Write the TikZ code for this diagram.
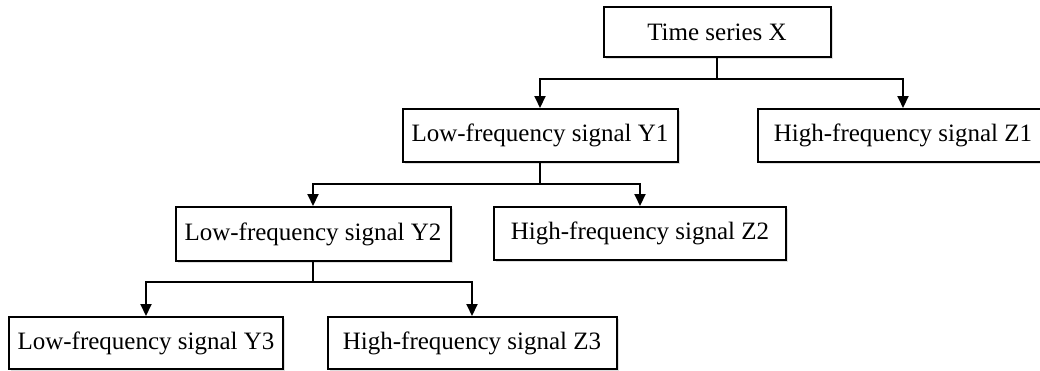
\documentclass[tikz,border=0pt]{standalone}
\usepackage{fontspec}
\setmainfont{Liberation Serif}
\usetikzlibrary{arrows.meta,shadows}
\begin{document}
\begin{tikzpicture}[x=1pt,y=-1pt,
  box/.style={draw, line width=2pt, fill=white, rectangle, inner sep=0pt,
    font=\fontsize{25}{30}\selectfont,
    drop shadow={shadow xshift=2pt, shadow yshift=-2pt, opacity=0.25, fill=gray}},
  conn/.style={line width=2pt},
  arr/.style={line width=2pt, -{Triangle[length=12pt,width=11pt]}}]
\useasboundingbox (0,0) rectangle (1040,370);
\node[box, minimum width=227pt, minimum height=50pt] (X) at (717,32) {Time series X};
\node[box, minimum width=275pt, minimum height=53pt] (Y1) at (540,135.5) {Low-frequency signal Y1};
\node[box, minimum width=290pt, minimum height=53pt] (Z1) at (903,135.5) {High-frequency signal Z1};
\node[box, minimum width=275pt, minimum height=54pt] (Y2) at (313,234) {Low-frequency signal Y2};
\node[box, minimum width=292pt, minimum height=53pt] (Z2) at (640,233.5) {High-frequency signal Z2};
\node[box, minimum width=274pt, minimum height=52pt] (Y3) at (146,343) {Low-frequency signal Y3};
\node[box, minimum width=289pt, minimum height=52pt] (Z3) at (472,343) {High-frequency signal Z3};
\coordinate (j1) at (X.south |- 0,79);
\coordinate (j2) at (Y1.south |- 0,184);
\coordinate (j3) at (Y2.south |- 0,282);
\draw[conn] (X.south) -- (j1);
\draw[arr] (j1) -| (Y1.north);
\draw[arr] (j1) -| (Z1.north);
\draw[conn] (Y1.south) -- (j2);
\draw[arr] (j2) -| (Y2.north);
\draw[arr] (j2) -| (Z2.north);
\draw[conn] (Y2.south) -- (j3);
\draw[arr] (j3) -| (Y3.north);
\draw[arr] (j3) -| (Z3.north);
\end{tikzpicture}
\end{document}
